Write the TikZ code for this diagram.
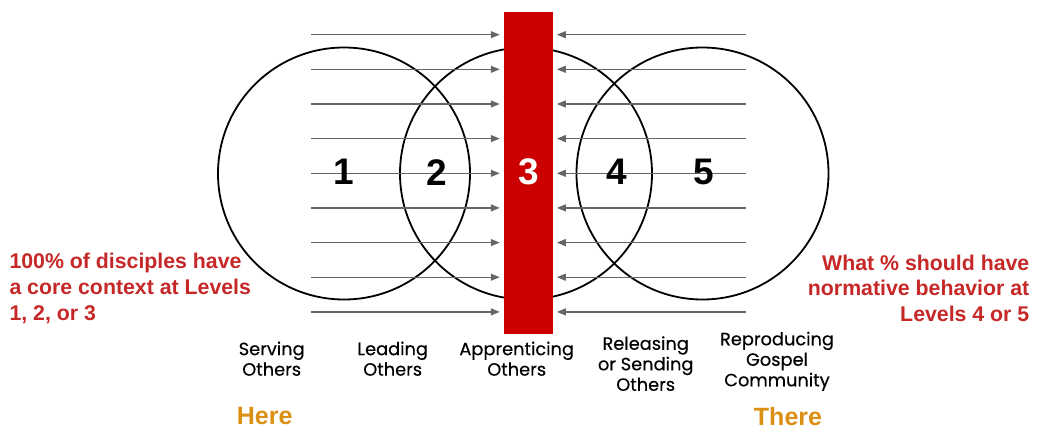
\documentclass[tikz,border=0pt]{standalone}
\usepackage{fontspec}
\setmainfont{Liberation Sans}
\newfontfamily\labelfont{Poppins}[FakeBold=0.4]
\usetikzlibrary{arrows.meta}
\definecolor{barred}{HTML}{CC0000}
\definecolor{notered}{HTML}{C62828}
\definecolor{placeorange}{HTML}{DB8F13}
\definecolor{arrowgray}{HTML}{666666}

\tikzset{
  flow/.style={-{Triangle[length=9pt,width=7pt]}, line width=1.3pt, arrowgray, shorten >=4pt},
  ring/.style={line width=1.8pt, black},
  level/.style={font=\fontsize{37}{40}\selectfont\bfseries, inner sep=0pt},
  stage/.style={font=\labelfont\fontsize{17.8}{20.5}\selectfont, align=center, inner sep=0pt},
  note/.style={font=\fontsize{21.3}{25.7}\selectfont\bfseries, notered, inner sep=0pt},
  place/.style={font=\fontsize{25}{30}\selectfont\bfseries, placeorange, inner sep=0pt}
}

\begin{document}
\begin{tikzpicture}[x=1pt, y=-1pt]
\useasboundingbox (0,0) rectangle (1037,429);

        % Define circle centers
        \coordinate (C1) at (344, 173.5);     % Center for circle 1
        \coordinate (C2) at (526, 173.5);     % Center for circle 2
        \coordinate (C3) at (702.5, 173.5);   % Center for circle 3

        % Define left ends of the arrows
        \coordinate (L1) at (311, 34.7);
        \coordinate (L2) at (311, 69.3);
        \coordinate (L3) at (311, 104.0);
        \coordinate (L4) at (311, 138.6);
        \coordinate (L5) at (311, 173.3);
        \coordinate (L6) at (311, 207.9);
        \coordinate (L7) at (311, 242.6);
        \coordinate (L8) at (311, 277.2);
        \coordinate (L9) at (311, 311.9);

        % Define right ends of the arrows
        \coordinate (R1) at (746, 34.7);
        \coordinate (R2) at (746, 69.3);
        \coordinate (R3) at (746, 104.0);
        \coordinate (R4) at (746, 138.6);
        \coordinate (R5) at (746, 173.3);
        \coordinate (R6) at (746, 207.9);
        \coordinate (R7) at (746, 242.6);
        \coordinate (R8) at (746, 277.2);
        \coordinate (R9) at (746, 311.9);

        % Draw the three circles
        \draw[ring] (C1) circle[radius=126pt];
        \draw[ring] (C2) circle[radius=126pt];
        \draw[ring] (C3) circle[radius=126pt];

        % Draw the red bar
        \node[fill=barred, minimum width=48.7pt, minimum height=321.7pt, inner sep=0pt] (bar) at (528.3, 173.2) {};

        % Draw arrows from the left onto the bar
        \draw[flow] (L1) -- (L1 -| bar.west);
        \draw[flow] (L2) -- (L2 -| bar.west);
        \draw[flow] (L3) -- (L3 -| bar.west);
        \draw[flow] (L4) -- (L4 -| bar.west);
        \draw[flow] (L5) -- (L5 -| bar.west);
        \draw[flow] (L6) -- (L6 -| bar.west);
        \draw[flow] (L7) -- (L7 -| bar.west);
        \draw[flow] (L8) -- (L8 -| bar.west);
        \draw[flow] (L9) -- (L9 -| bar.west);

        % Draw arrows from the right onto the bar
        \draw[flow] (R1) -- (R1 -| bar.east);
        \draw[flow] (R2) -- (R2 -| bar.east);
        \draw[flow] (R3) -- (R3 -| bar.east);
        \draw[flow] (R4) -- (R4 -| bar.east);
        \draw[flow] (R5) -- (R5 -| bar.east);
        \draw[flow] (R6) -- (R6 -| bar.east);
        \draw[flow] (R7) -- (R7 -| bar.east);
        \draw[flow] (R8) -- (R8 -| bar.east);
        \draw[flow] (R9) -- (R9 -| bar.east);

        % Level numbers
        \node[level] (n1) at (344, 172.2) {1};
        \node[level] (n2) at (437, 172.2) {2};
        \node[level, white] (n3) at (529, 172.2) {3};
        \node[level] (n4) at (617, 172.2) {4};
        \node[level] (n5) at (704, 172.2) {5};

        % Stage labels under the circles
        \node[stage] (serving) at (271.7, 358.7) {Serving\\Others};
        \node[stage] (leading) at (392.7, 358.7) {Leading\\Others};
        \node[stage] (apprent) at (516.7, 358.7) {Apprenticing\\Others};
        \node[stage] (release) at (645.7, 363.6) {Releasing\\or Sending\\Others};
        \node[stage] (reprod) at (777, 361.3) {Reproducing\\Gospel\\Community};

        % Side notes
        \node[note, anchor=west, align=left] (leftnote) at (9.3, 288.3) {100\% of disciples have\\a core context at Levels\\1, 2, or 3};
        \node[note, anchor=east, align=right] (rightnote) at (1029.5, 288.3) {What \% should have\\normative behavior at\\Levels 4 or 5};

        % Here and There
        \node[place] (here) at (264.7, 416) {Here};
        \node[place] (there) at (788, 416.5) {There};
    \end{tikzpicture}
\end{document}
